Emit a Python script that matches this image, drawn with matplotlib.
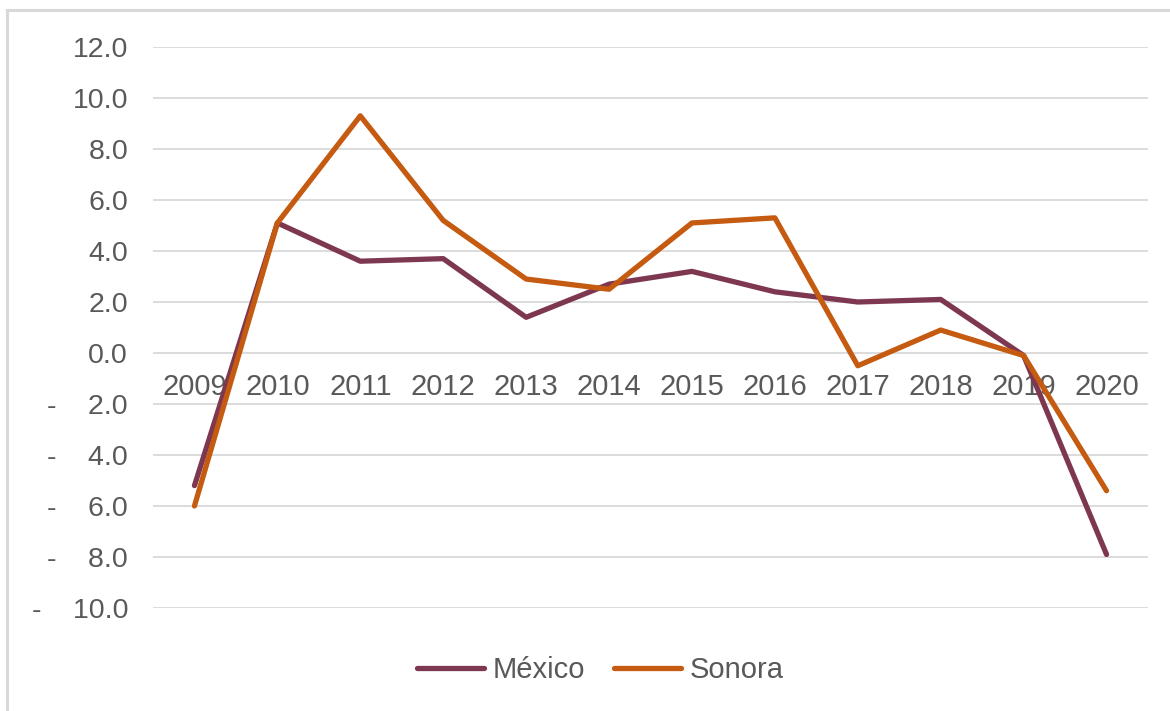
import matplotlib
matplotlib.use("Agg")
import matplotlib.pyplot as plt
from matplotlib.patches import Rectangle

years = ["2009", "2010", "2011", "2012", "2013", "2014", "2015", "2016", "2017", "2018", "2019", "2020"]
mexico = [-5.2, 5.1, 3.6, 3.7, 1.4, 2.7, 3.2, 2.4, 2.0, 2.1, -0.1, -7.9]
sonora = [-6.0, 5.1, 9.3, 5.2, 2.9, 2.5, 5.1, 5.3, -0.5, 0.9, -0.1, -5.4]
yticks = [12, 10, 8, 6, 4, 2, 0, -2, -4, -6, -8, -10]

plt.rcParams['font.family'] = ['Liberation Sans', 'DejaVu Sans']
text_color = "#595959"
grid_color = "#D9D9D9"
c_mex = "#7E3750"
c_son = "#C55A11"

W, H = 1170, 711
fig = plt.figure(figsize=(W / 100, H / 100), dpi=100)
fig.patch.set_facecolor("white")

# chart border
fig.patches.append(Rectangle((7 / W, -0.05), 1.2, 1 - 10 / H + 0.05, transform=fig.transFigure,
                             fill=False, edgecolor=grid_color, linewidth=2.2, zorder=0))

left, right = 153 / W, 1148 / W
top, bottom = 1 - 47 / H, 1 - 608 / H
ax = fig.add_axes([left, bottom, right - left, top - bottom])
ax.set_facecolor("none")

x = list(range(len(years)))
ax.plot(x, mexico, color=c_mex, lw=3.8, label="México", zorder=3, solid_capstyle='round')
ax.plot(x, sonora, color=c_son, lw=3.8, label="Sonora", zorder=4, solid_capstyle='round')

ax.set_xlim(-0.5, len(years) - 0.5)
ax.set_ylim(-10, 12)
ax.set_yticks(yticks)
def fmt(v):
    if v < 0:
        return "-    " + f"{abs(v):.1f}"
    return f"{v:.1f}"
ax.set_yticklabels([fmt(v) for v in yticks])
ax.tick_params(axis='y', length=0, pad=18, labelsize=20.5, labelcolor=text_color)
ax.set_xticks([])
ax.grid(axis='y', color=grid_color, linewidth=1.3, zorder=0)
ax.set_axisbelow(True)
for s in ax.spines.values():
    s.set_visible(False)

for i, yr in enumerate(years):
    ax.annotate(yr, xy=(i, 0), xytext=(0, -14.5), textcoords='offset points',
                ha='center', va='top', fontsize=21, color=text_color, zorder=1)

leg = fig.legend(loc='center', bbox_to_anchor=(0.513, 1 - 670 / H), ncol=2, frameon=False,
                 fontsize=21, handlelength=2.3, handletextpad=0.3, columnspacing=1.0)
for t in leg.get_texts():
    t.set_color(text_color)
for l in leg.get_lines():
    l.set_linewidth(3.8)

fig.savefig("out.png", dpi=100, facecolor="white")
